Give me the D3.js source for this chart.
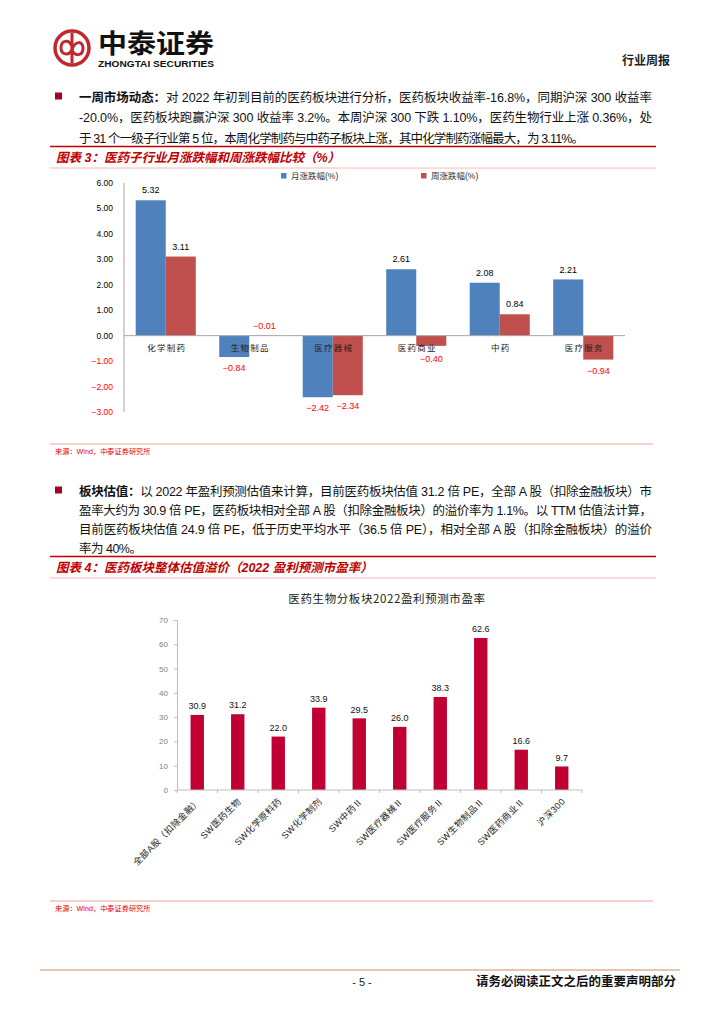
<!DOCTYPE html>
<html lang="zh">
<head>
<meta charset="UTF-8">
<title>行业周报 - 医药</title>
<script src="https://d3js.org/d3.v7.min.js"></script>
<style>
  body { margin: 0; background: #fff; }
  svg { display: block; }
  text { font-family: "Liberation Sans", "Noto Sans CJK SC", sans-serif; }
  .cjk { font-family: "Noto Sans CJK SC", sans-serif; }
</style>
</head>
<body>
<svg id="page" width="724" height="1024"></svg>
<script>
// ---- chart 3 data: 医药子行业月涨跌幅和周涨跌幅 ----
const subIndustries = ["化学制药", "生物制品", "医疗器械", "医药商业", "中药", "医疗服务"];
const monthlyChange = [5.32, -0.84, -2.42, 2.61, 2.08, 2.21];
const weeklyChange = [3.11, -0.01, -2.34, -0.40, 0.84, -0.94];
const seriesNames = ["月涨跌幅(%)", "周涨跌幅(%)"];
const changeTicks = [6, 5, 4, 3, 2, 1, 0, -1, -2, -3];

// ---- chart 4 data: 2022 盈利预测市盈率 ----
const peSectors = ["全部A股（扣除金融）", "SW医药生物", "SW化学原料药", "SW化学制剂", "SW中药Ⅱ",
  "SW医疗器械Ⅱ", "SW医疗服务Ⅱ", "SW生物制品Ⅱ", "SW医药商业Ⅱ", "沪深300"];
const peValues = [30.9, 31.2, 22.0, 33.9, 29.5, 26.0, 38.3, 62.6, 16.6, 9.7];
const peTicks = [0, 10, 20, 30, 40, 50, 60, 70];

const RED = "#C00000";
const svg = d3.select("#page");

// ---------- header ----------
const logo = svg.append("g").attr("transform", "translate(72,48)");
logo.append("circle").attr("r", 17).attr("fill", "none").attr("stroke", "#C1272D").attr("stroke-width", 3.5);
logo.append("line").attr("x1", 0).attr("x2", 0).attr("y1", -15).attr("y2", 15)
  .attr("stroke", "#C1272D").attr("stroke-width", 3);
logo.append("path").attr("d", "M0,-2 C-3,-9 -11,-8 -11,0 C-11,7 -3,8 0,2 C3,-8 11,-7 11,0 C11,8 3,9 0,2")
  .attr("fill", "none").attr("stroke", "#C1272D").attr("stroke-width", 3);

svg.append("text").attr("class", "cjk").attr("x", 98).attr("y", 53)
  .attr("font-size", 26).attr("font-weight", 700).attr("fill", "#111")
  .attr("textLength", 116).attr("lengthAdjust", "spacingAndGlyphs").text("中泰证券");
svg.append("text").attr("x", 98).attr("y", 66.5).attr("font-size", 8.4).attr("font-weight", 700)
  .attr("fill", "#111").attr("textLength", 116).attr("lengthAdjust", "spacingAndGlyphs")
  .text("ZHONGTAI SECURITIES");
svg.append("text").attr("class", "cjk").attr("x", 670).attr("y", 65).attr("text-anchor", "end")
  .attr("font-size", 12).attr("font-weight", 700).attr("fill", "#222").text("行业周报");

// ---------- paragraphs ----------
function paragraph(lines, y0, lh) {
  lines.forEach((ln, i) => {
    const t = svg.append("text").attr("x", 79).attr("y", y0 + i * lh)
      .attr("font-size", 12.5).attr("fill", "#111");
    if (ln.width) t.attr("textLength", ln.width).attr("lengthAdjust", "spacing");
    if (ln.bold) t.append("tspan").attr("font-weight", 700).text(ln.bold);
    t.append("tspan").text(ln.text);
  });
  svg.append("rect").attr("x", 55).attr("y", y0 - 9).attr("width", 7).attr("height", 7).attr("fill", "#A50021");
}

paragraph([
  { bold: "一周市场动态：", text: "对 2022 年初到目前的医药板块进行分析，医药板块收益率-16.8%，同期沪深 300 收益率", width: 573 },
  { text: "-20.0%，医药板块跑赢沪深 300 收益率 3.2%。本周沪深 300 下跌 1.10%，医药生物行业上涨 0.36%，处", width: 573 },
  { text: "于 31 个一级子行业第 5 位，本周化学制药与中药子板块上涨，其中化学制药涨幅最大，为 3.11%。", width: 505 }
], 101.5, 20.5);

paragraph([
  { bold: "板块估值：", text: "以 2022 年盈利预测估值来计算，目前医药板块估值 31.2 倍 PE，全部 A 股（扣除金融板块）市", width: 573 },
  { text: "盈率大约为 30.9 倍 PE，医药板块相对全部 A 股（扣除金融板块）的溢价率为 1.1%。以 TTM 估值法计算，", width: 573 },
  { text: "目前医药板块估值 24.9 倍 PE，低于历史平均水平（36.5 倍 PE），相对全部 A 股（扣除金融板块）的溢价", width: 573 },
  { text: "率为 40%。", width: 63 }
], 495.5, 19);

// ---------- figure headings / sources ----------
function heading(label, y) {
  svg.append("line").attr("x1", 50).attr("x2", 656).attr("y1", y - 15).attr("y2", y - 15)
    .attr("stroke", RED).attr("stroke-width", 1.5);
  svg.append("text").attr("x", 56).attr("y", y).attr("font-size", 12.5).attr("font-weight", 700)
    .attr("font-style", "italic").attr("fill", RED).text(label);
  svg.append("line").attr("x1", 50).attr("x2", 656).attr("y1", y + 6.5).attr("y2", y + 6.5)
    .attr("stroke", "#F2B8B8").attr("stroke-width", 1);
}
function source(y) {
  svg.append("line").attr("x1", 50).attr("x2", 653).attr("y1", y - 10).attr("y2", y - 10)
    .attr("stroke", "#F0A0A0").attr("stroke-width", 1);
  svg.append("text").attr("x", 55).attr("y", y).attr("font-size", 7.2).attr("fill", "#E00000")
    .text("来源：Wind，中泰证券研究所");
}
heading("图表 3：医药子行业月涨跌幅和周涨跌幅比较（%）", 161.5);
source(454);
heading("图表 4：医药板块整体估值溢价（2022 盈利预测市盈率）", 571.5);
source(911);

// ---------- chart 3: grouped bars ----------
const x0 = d3.scaleBand().domain(subIndustries).range([124, 625]);
const x1 = d3.scaleBand().domain([0, 1]).range([0, x0.bandwidth()]).paddingOuter(0.39);
const y1 = d3.scaleLinear().domain([-3, 6]).range([412, 183]);
const barColors = ["#4F81BD", "#C0504D"];

const c3 = svg.append("g");
c3.append("line").attr("x1", 124).attr("x2", 124).attr("y1", y1(6)).attr("y2", y1(-3))
  .attr("stroke", "#A6A6A6");
c3.selectAll(".yt").data(changeTicks).join("text")
  .attr("x", 113).attr("y", d => y1(d)).attr("dy", "0.35em").attr("text-anchor", "end")
  .attr("font-size", 8.5).attr("fill", d => d < 0 ? "#FF0000" : "#000")
  .text(d => d3.format(".2f")(d));

const rows = subIndustries.map((c, i) => ({ c, vals: [monthlyChange[i], weeklyChange[i]] }));
const grp = c3.selectAll(".grp").data(rows).join("g")
  .attr("transform", d => `translate(${x0(d.c)},0)`);
grp.selectAll("rect").data(d => d.vals).join("rect")
  .attr("x", (d, i) => x1(i)).attr("width", x1.bandwidth())
  .attr("y", d => y1(Math.max(0, d))).attr("height", d => Math.abs(y1(d) - y1(0)))
  .attr("fill", (d, i) => barColors[i]);
grp.selectAll(".lbl").data(d => d.vals).join("text")
  .attr("x", (d, i) => x1(i) + x1.bandwidth() / 2)
  .attr("y", d => d > -0.05 ? y1(Math.max(0, d)) - 10 : Math.max(y1(d) + 11, y1(0) + 23))
  .attr("dy", "0.35em").attr("text-anchor", "middle").attr("font-size", 9)
  .attr("fill", d => d < 0 ? "#FF0000" : "#000")
  .text(d => d3.format(".2f")(d));

c3.append("line").attr("x1", 124).attr("x2", 625).attr("y1", y1(0)).attr("y2", y1(0))
  .attr("stroke", "#A6A6A6");
c3.selectAll(".cat").data(subIndustries).join("text").attr("class", "cjk")
  .attr("x", d => x0(d) + x0.bandwidth() / 2 + 1).attr("y", y1(0) + 12).attr("dy", "0.35em")
  .attr("text-anchor", "middle").attr("font-size", 8.5).attr("letter-spacing", 1.3)
  .attr("fill", "#222").text(d => d);

// legend
const lg = c3.selectAll(".lg").data(seriesNames).join("g")
  .attr("transform", (d, i) => `translate(${284 + i * 140},176)`);
lg.append("rect").attr("x", -3).attr("y", -3).attr("width", 5.5).attr("height", 5.5)
  .attr("fill", (d, i) => barColors[i]);
lg.append("text").attr("x", 7).attr("dy", "0.35em").attr("font-size", 8.5).attr("fill", "#333").text(d => d);

// ---------- chart 4: PE bars ----------
const xb = d3.scaleBand().domain(peSectors).range([177, 582]).paddingInner(0.67).paddingOuter(0.335);
const yb = d3.scaleLinear().domain([0, 70]).range([790, 620]);
const c4 = svg.append("g");

c4.append("text").attr("class", "cjk").attr("x", 387).attr("y", 603).attr("text-anchor", "middle")
  .attr("font-size", 11.5).attr("letter-spacing", 0.6).attr("fill", "#222")
  .text("医药生物分板块2022盈利预测市盈率");

c4.append("g").attr("transform", "translate(177,0)")
  .call(d3.axisLeft(yb).tickValues(peTicks).tickSize(3).tickPadding(6))
  .call(g => g.select(".domain").attr("stroke", "#BFBFBF"))
  .call(g => g.selectAll(".tick line").attr("stroke", "#BFBFBF"))
  .call(g => g.selectAll(".tick text").attr("font-size", 8).attr("fill", "#808080")
    .attr("font-family", "Liberation Sans"));

c4.selectAll(".pe").data(peValues).join("rect")
  .attr("x", (d, i) => xb(peSectors[i])).attr("width", xb.bandwidth())
  .attr("y", d => yb(d)).attr("height", d => yb(0) - yb(d)).attr("fill", "#C00032");
c4.selectAll(".pel").data(peValues).join("text")
  .attr("x", (d, i) => xb(peSectors[i]) + xb.bandwidth() / 2).attr("y", d => yb(d) - 9)
  .attr("dy", "0.35em").attr("text-anchor", "middle").attr("font-size", 9).attr("fill", "#111")
  .text(d => d.toFixed(1));

// x axis line + ticks between categories
c4.append("line").attr("x1", 177).attr("x2", 582).attr("y1", yb(0)).attr("y2", yb(0)).attr("stroke", "#BFBFBF");
c4.selectAll(".xt").data(d3.range(peSectors.length + 1)).join("line")
  .attr("x1", i => 177 + i * xb.step()).attr("x2", i => 177 + i * xb.step())
  .attr("y1", yb(0)).attr("y2", yb(0) + 3).attr("stroke", "#BFBFBF");
c4.selectAll(".xl").data(peSectors).join("text")
  .attr("transform", d => `translate(${xb(d) + xb.bandwidth() / 2 + 4},${yb(0) + 12}) rotate(-45)`)
  .attr("text-anchor", "end").attr("font-size", 9).attr("letter-spacing", 0.4)
  .attr("fill", "#222").text(d => d);

// ---------- footer ----------
svg.append("line").attr("x1", 40).attr("x2", 680).attr("y1", 970).attr("y2", 970)
  .attr("stroke", "#E8C6AE").attr("stroke-width", 2);
svg.append("text").attr("x", 362).attr("y", 986).attr("text-anchor", "middle")
  .attr("font-size", 11).attr("fill", "#222").text("- 5 -");
svg.append("text").attr("class", "cjk").attr("x", 676).attr("y", 986).attr("text-anchor", "end")
  .attr("font-size", 12.5).attr("font-weight", 700).attr("fill", "#111")
  .text("请务必阅读正文之后的重要声明部分");
</script>
</body>
</html>
